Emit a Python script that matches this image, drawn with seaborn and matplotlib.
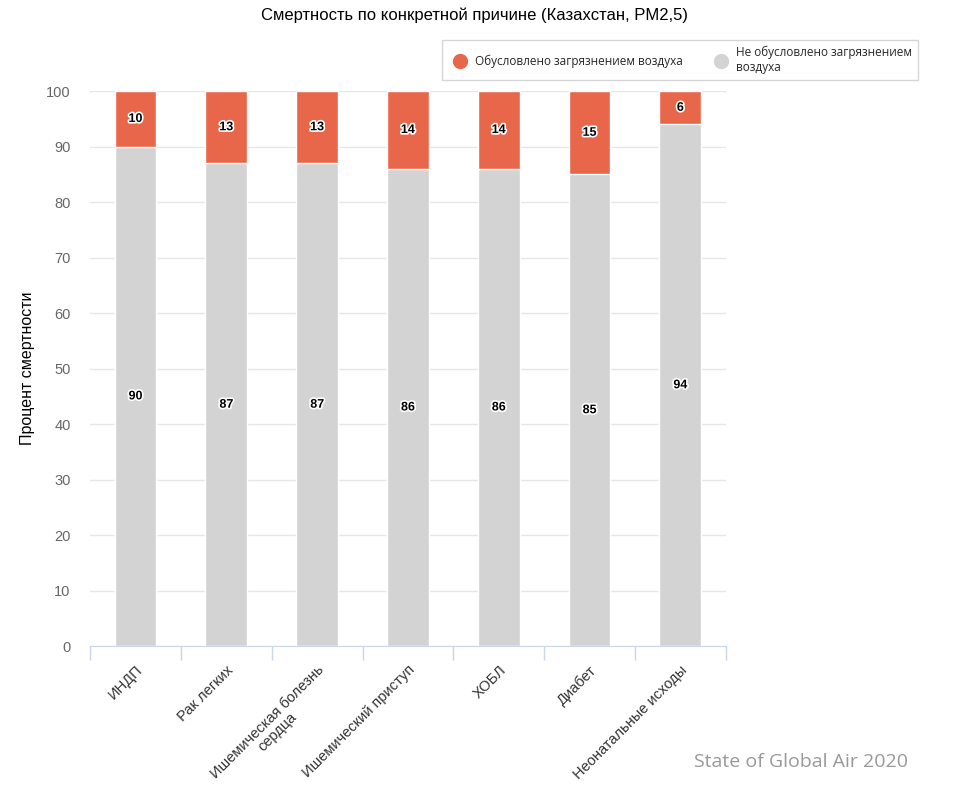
import matplotlib.pyplot as plt
import matplotlib.patheffects as pe
from matplotlib.lines import Line2D
import seaborn as sns
import pandas as pd

# data
causes = ['ИНДП', 'Рак легких', 'Ишемическая болезнь\nсердца', 'Ишемический приступ',
          'ХОБЛ', 'Диабет', 'Неонатальные исходы']
air = [10, 13, 13, 14, 14, 15, 6]
not_air = [90, 87, 87, 86, 86, 85, 94]

RED = '#e8674b'
GREY = '#d3d3d3'

df = pd.DataFrame({'cause': causes, 'air': air, 'not_air': not_air})
df['total'] = df['air'] + df['not_air']

sns.set_style('white')
plt.rcParams['font.family'] = ['Liberation Sans', 'DejaVu Sans']

fig = plt.figure(figsize=(9.69, 7.86), dpi=100)
ax = fig.add_axes([0.093, 0.178, 0.656, 0.706])

# stacked: total (red) underneath, grey part drawn over it
sns.barplot(data=df, x='cause', y='total', color=RED, width=0.46, saturation=1,
            edgecolor='white', linewidth=1, ax=ax, zorder=2)
sns.barplot(data=df, x='cause', y='not_air', color=GREY, width=0.46, saturation=1,
            edgecolor='white', linewidth=1, ax=ax, zorder=3)

outline = [pe.withStroke(linewidth=2.4, foreground='white')]
for i, (a, n) in enumerate(zip(air, not_air)):
    ax.text(i, n / 2, str(n), ha='center', va='center', fontsize=9,
            fontweight='bold', color='black', path_effects=outline, zorder=5)
    ax.text(i, n + a / 2, str(a), ha='center', va='center', fontsize=9,
            fontweight='bold', color='black', path_effects=outline, zorder=5)

ax.set_ylim(0, 100)
ax.set_xlim(-0.5, len(causes) - 0.5)
ax.set_yticks(range(0, 101, 10))
ax.yaxis.grid(True, color='#e6e6e6', linewidth=1, zorder=0)
ax.set_axisbelow(True)
for s in ['top', 'right', 'left']:
    ax.spines[s].set_visible(False)
ax.spines['bottom'].set_color('#ccd6eb')
ax.tick_params(axis='y', length=0, labelsize=10.5, labelcolor='#666666', pad=14)

# category boundary ticks like the original
ax.set_xticks(range(len(causes)))
ax.set_xticks([i - 0.5 for i in range(len(causes) + 1)], minor=True)
ax.tick_params(axis='x', which='minor', bottom=True, length=10, color='#ccd6eb', width=1)
ax.tick_params(axis='x', which='major', bottom=False, length=0, pad=6)
ax.set_xticklabels(causes, rotation=45, ha='right', rotation_mode='anchor',
                   fontsize=10.5, color='#333333', linespacing=1.0,
                   multialignment='center')
for lbl in ax.get_xticklabels():
    lbl.set_y(-0.015)

ax.set_xlabel('')
ax.set_ylabel('Процент смертности', fontsize=11.5, color='black', labelpad=8)

fig.text(0.49, 0.981, 'Смертность по конкретной причине (Казахстан, PM2,5)',
         ha='center', va='center', fontsize=12, color='black')

# legend box
handles = [Line2D([], [], marker='o', linestyle='', markersize=10, color=RED),
           Line2D([], [], marker='o', linestyle='', markersize=10, color=GREY)]
leg = fig.legend(handles, ['Обусловлено загрязнением воздуха', 'Не обусловлено загрязнением\nвоздуха'],
                 loc='center', bbox_to_anchor=(0.702, 0.924), ncol=2, frameon=True,
                 fancybox=False, edgecolor='#cccccc', handletextpad=0.3,
                 columnspacing=2.2, borderpad=0.5,
                 prop={'family': ['Open Sans', 'DejaVu Sans'], 'size': 8.5})

fig.text(0.937, 0.031, 'State of Global Air 2020', ha='right', va='center',
         fontsize=14, color='#999999', family=['Open Sans', 'DejaVu Sans'])

fig.savefig('out.png', dpi=100)
